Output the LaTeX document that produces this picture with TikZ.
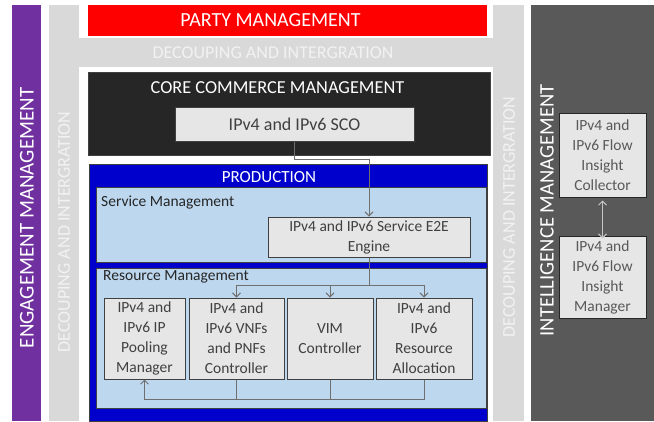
\documentclass[tikz,border=0pt]{standalone}
\usepackage{fontspec}
\setmainfont{Carlito}
\usetikzlibrary{arrows.meta}

\definecolor{engage}{HTML}{7030A0}
\definecolor{decouple}{HTML}{D9D9D9}
\definecolor{decotext}{HTML}{F2F2F2}
\definecolor{intel}{HTML}{595959}
\definecolor{party}{HTML}{FF0000}
\definecolor{core}{HTML}{262626}
\definecolor{prod}{HTML}{0000CC}
\definecolor{mgmt}{HTML}{BDD7EE}
\definecolor{unit}{HTML}{E7E6E6}
\definecolor{ink}{HTML}{404040}
\definecolor{wire}{HTML}{6F6F6F}

\tikzset{
  band/.style={inner sep=0pt, outer sep=0pt},
  title/.style={text=white, inner sep=0pt},
  func/.style={draw=ink, fill=unit, line width=1pt, text=ink, align=center,
    inner sep=0pt, font=\fontsize{15.5}{20}\selectfont},
  layer/.style={draw=ink, fill=mgmt, line width=1pt, inner sep=0pt},
  link/.style={draw=wire, line width=1pt, -{Straight Barb[length=4pt,width=8pt]}},
  wirepath/.style={draw=wire, line width=1pt},
}

\begin{document}
\begin{tikzpicture}[x=1pt, y=-1pt]
  \useasboundingbox (0,0) rectangle (654,421);

  % side columns and the top band
  \node[band, fill=engage, minimum width=29pt, minimum height=416pt] (engage) at (26.5,213) {};
  \node[title, rotate=90, font=\fontsize{21}{25}\selectfont] (engagelbl) at (27,218) {ENGAGEMENT MANAGEMENT};
  \node[band, fill=decouple, minimum width=30pt, minimum height=416pt] (decleft) at (64,213) {};
  \node[band, fill=decouple, minimum width=31pt, minimum height=416pt] (decright) at (508.5,213) {};
  \node[band, fill=decouple, minimum width=475pt, minimum height=29pt] (dectop) at (286.5,52.5) {};
  \node[title, text=decotext, font=\fontsize{18}{22}\selectfont] (dectoplbl) at (273,53) {DECOUPING AND INTERGRATION};
  \node[title, text=decotext, rotate=90, font=\fontsize{18}{22}\selectfont] (decleftlbl) at (64,232) {DECOUPING AND INTERGRATION};
  \node[title, text=decotext, rotate=90, font=\fontsize{18}{22}\selectfont] (decrightlbl) at (509,217) {DECOUPING AND INTERGRATION};
  \node[band, fill=intel, minimum width=123pt, minimum height=416pt] (intel) at (592.5,213) {};
  \node[title, rotate=90, font=\fontsize{20.6}{24}\selectfont] (intellbl) at (547,210.5) {INTELLIGENCE MANAGEMENT};

  % party management
  \node[band, fill=party, minimum width=399pt, minimum height=31pt] (party) at (287.5,20.5) {};
  \node[title, font=\fontsize{20}{24}\selectfont] (partylbl) at (270.5,20.5) {PARTY MANAGEMENT};

  % core commerce
  \node[band, fill=core, draw=ink, minimum width=402pt, minimum height=83pt] (core) at (289,113.5) {};
  \node[title, font=\fontsize{18.3}{22}\selectfont] (corelbl) at (277.5,88) {CORE COMMERCE MANAGEMENT};
  \node[func, font=\fontsize{18}{22}\selectfont, minimum width=239pt, minimum height=34pt] (sco) at (294.5,124) {IPv4 and IPv6 SCO};

  % production
  \node[band, fill=prod, draw=ink, minimum width=398pt, minimum height=257pt] (prod) at (288,292.5) {};
  \node[title, font=\fontsize{17}{20}\selectfont] (prodlbl) at (269,177) {PRODUCTION};
  \node[layer, minimum width=390pt, minimum height=75pt] (service) at (291,224.5) {};
  \node[anchor=west, inner sep=0pt, text=core, font=\fontsize{15.5}{20}\selectfont] (servicelbl) at (101,202) {Service Management};
  \node[func, minimum width=202pt, minimum height=40pt] (e2e) at (369,237) {IPv4 and IPv6 Service E2E\\Engine};
  \node[layer, minimum width=390pt, minimum height=140pt] (resource) at (291,338) {};
  \node[anchor=west, inner sep=0pt, text=core, font=\fontsize{15.5}{20}\selectfont] (resourcelbl) at (103,277) {Resource Management};

  \node[func, minimum width=81pt, minimum height=81pt] (pool) at (144.5,338.5) {IPv4 and\\IPv6 IP\\Pooling\\Manager};
  \node[func, minimum width=95pt, minimum height=81pt] (vnf) at (236.5,338.5) {IPv4 and\\IPv6 VNFs\\and PNFs\\Controller};
  \node[func, minimum width=86pt, minimum height=81pt] (vim) at (330,338.5) {VIM\\Controller};
  \node[func, minimum width=96pt, minimum height=81pt] (alloc) at (424,338.5) {IPv4 and\\IPv6\\Resource\\Allocation};

  % intelligence
  \node[func, draw=core, text=intel, minimum width=87pt, minimum height=84pt] (collector) at (602.5,155) {IPv4 and\\IPv6 Flow\\Insight\\Collector};
  \node[func, draw=core, text=intel, minimum width=87pt, minimum height=82pt] (manager) at (602.5,277) {IPv4 and\\IPv6 Flow\\Insight\\Manager};

  % connectors
  \coordinate (bend) at (369,159);
  \coordinate (fan) at (0,285);
  \coordinate (back) at (0,399);
  \draw[link] (sco.south) |- (bend) -- (e2e.north);
  \draw[link] (e2e.south) |- (vnf.north |- fan) -- (vnf.north);
  \draw[link] (e2e.south) |- (alloc.north |- fan) -- (alloc.north);
  \draw[link] (vim.north |- fan) -- (vim.north);
  \draw[link] (alloc.south) |- (pool.south |- back) -- (pool.south);
  \draw[wirepath] (vnf.south) -- (vnf.south |- back);
  \draw[wirepath] (vim.south) -- (vim.south |- back);
  \draw[link, draw=decouple!80!gray, {Straight Barb[length=4pt,width=8pt]}-{Straight Barb[length=4pt,width=8pt]}] (collector.south) ++(0,3) -- ([yshift=-3pt]manager.north);
\end{tikzpicture}
\end{document}
